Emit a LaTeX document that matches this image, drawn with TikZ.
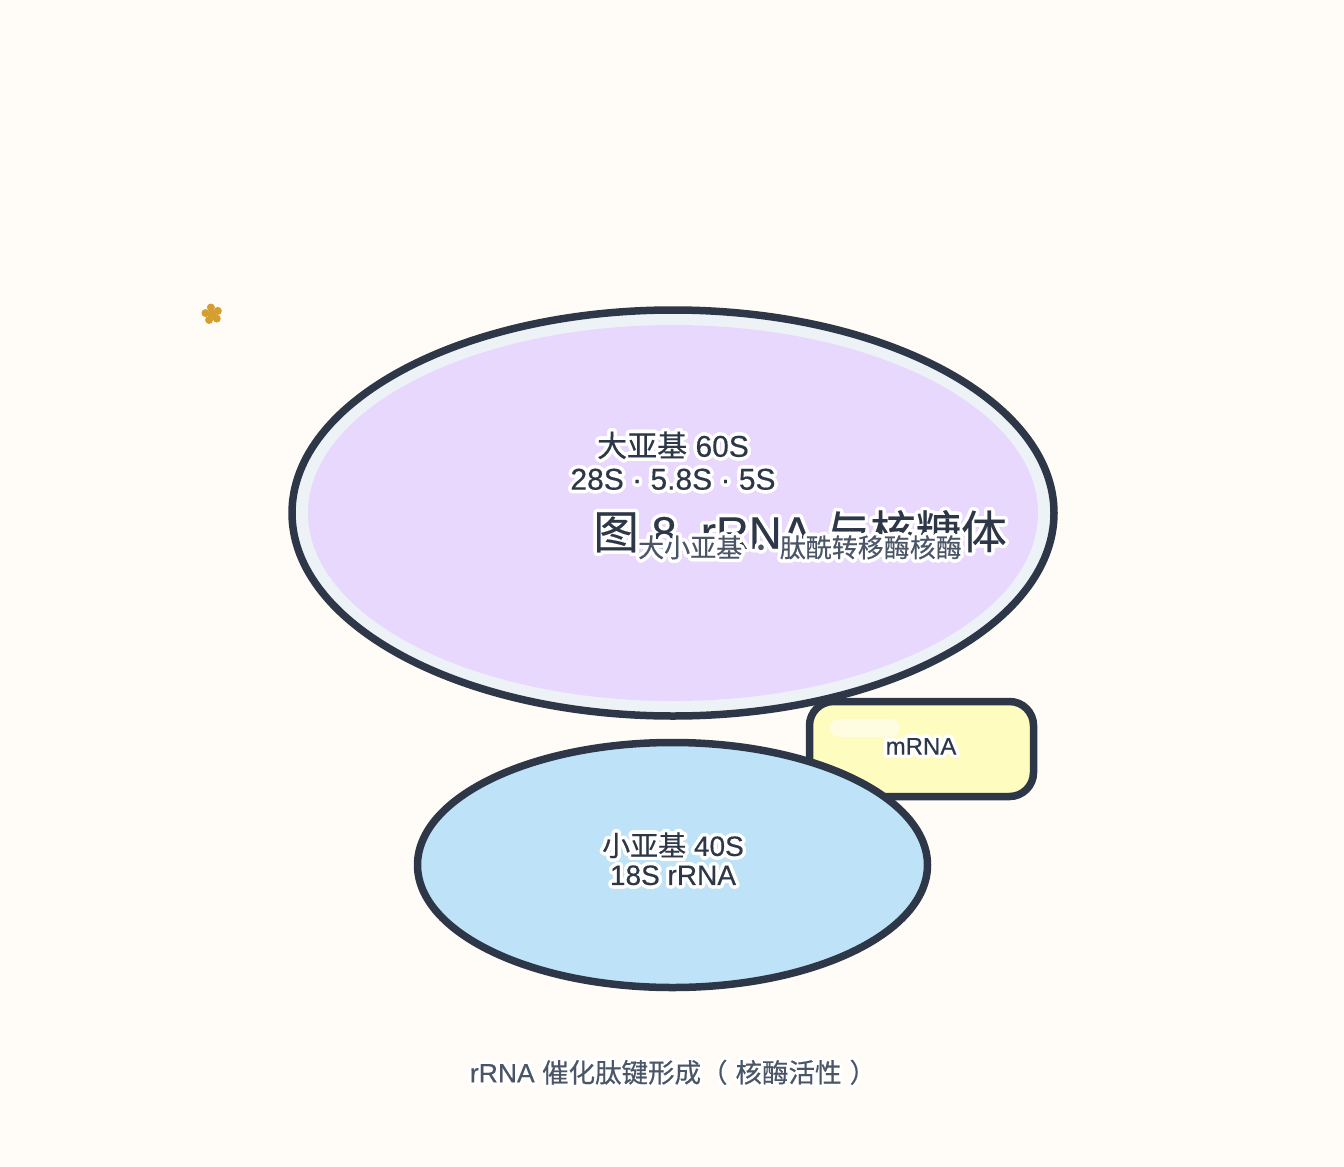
\documentclass[tikz,border=0pt]{standalone}
\usepackage{fontspec}
\setmainfont{Liberation Sans}[FakeBold=0.4]
\newfontfamily\cjk{Noto Sans CJK SC}[FakeBold=0.4]
\usepackage[copies]{contour}
\contourlength{3.4pt}
\contournumber{40}
\definecolor{bg}{HTML}{FFFCF7}
\definecolor{ink}{HTML}{2D3748}
\definecolor{inksoft}{HTML}{4A5568}
\definecolor{band}{HTML}{EDF2F7}
\definecolor{lav}{HTML}{E9D8FD}
\definecolor{sky}{HTML}{BEE3F8}
\definecolor{lemon}{HTML}{FEFCBF}
\definecolor{gold}{HTML}{D69E2E}
\tikzset{
  outline/.style={draw=ink, line width=7.5pt},
  lbl/.style={inner sep=0pt, text=ink, font=\fontsize{28}{34}\selectfont},
  soft/.style={inner sep=0pt, text=inksoft},
}
\begin{document}
\begin{tikzpicture}[x=1pt,y=-1pt]
\fill[bg] (0,0) rectangle (1344,1167);
\useasboundingbox (0,0) rectangle (1344,1167);
% star (five-petal flower)
\fill[gold] (212,314) circle [radius=4.6];
\foreach \a in {-100,-28,44,116,188}
  \fill[gold] (212,314) ++(\a:6.6) circle [radius=4.0];
% large subunit
\draw[outline, fill=band] (673,513) ellipse [x radius=381, y radius=203];
\fill[lav] (673,513) ellipse [x radius=365, y radius=188];
% mRNA box
\draw[outline, fill=lemon, rounded corners=24pt] (809.5,701.5) rectangle (1033.5,796.5);
\fill[white, opacity=0.55, rounded corners=9pt] (830,719) rectangle (900,737);
% small subunit
\draw[outline, fill=sky] (672.5,865) ellipse [x radius=255, y radius=122.5];
% labels
\node[lbl, font=\fontsize{30}{36}\selectfont] (big1) at (673,447) {\contour{white}{{\cjk 大亚基} 60S}};
\node[lbl, font=\fontsize{30}{36}\selectfont] (big2) at (673,481) {\contour{white}{28S · 5.8S · 5S}};
\node[lbl, font=\fontsize{45.5}{52}\selectfont] (title) at (800,533) {\contour{white}{{\cjk 图} 8\hspace{24pt}rRNA {\cjk 与核糖体}}};
\node[soft, font=\fontsize{26}{30}\selectfont] (sub) at (800,549) {\contour{white}{\cjk 大小亚基 · 肽酰转移酶核酶}};
\node[lbl, font=\fontsize{24}{28}\selectfont] (mrna) at (921,748) {\contour{white}{mRNA}};
\node[lbl] (small1) at (673,847) {\contour{white}{{\cjk 小亚基} 40S}};
\node[lbl] (small2) at (673,877) {\contour{white}{18S rRNA}};
\node[soft, font=\fontsize{26.5}{30}\selectfont] (foot) at (673,1074) {\contour{white}{rRNA {\cjk 催化肽键形成（\hspace{8pt}核酶活性\hspace{8pt}）}}};
\end{tikzpicture}
\end{document}
